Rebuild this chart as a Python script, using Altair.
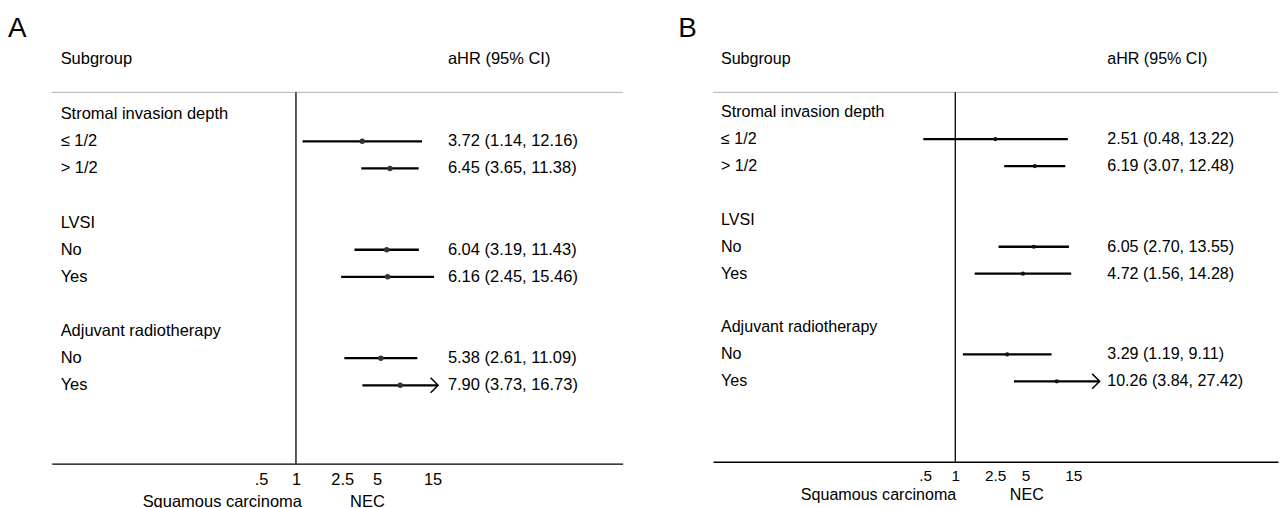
import math
import altair as alt
import pandas as pd

# ---------------- data ----------------
row_labels = ["Stromal invasion depth", "\u2264 1/2", "> 1/2", "",
              "LVSI", "No", "Yes", "",
              "Adjuvant radiotherapy", "No", "Yes"]
est_rows = [1, 2, 5, 6, 9, 10]

A_est = [3.72, 6.45, 6.04, 6.16, 5.38, 7.90]
A_lo = [1.14, 3.65, 3.19, 2.45, 2.61, 3.73]
A_hi = [12.16, 11.38, 11.43, 15.46, 11.09, 16.73]
A_arrow = [False, False, False, False, False, True]

B_est = [2.51, 6.19, 6.05, 4.72, 3.29, 10.26]
B_lo = [0.48, 3.07, 2.70, 1.56, 1.19, 3.84]
B_hi = [13.22, 12.48, 13.55, 14.28, 9.11, 27.42]
B_arrow = [False, False, False, False, False, True]

x_ticks = [0.5, 1, 2.5, 5, 15]

FONT = "Liberation Sans"

# panel layout parameters (pixels, panel coordinates)
PA = dict(letter="A", width=632, height=457, one_px=290, px_per_ln=50.8,
          axis_range=(44, 619), y0=105, dy=27.3, label_x=53, value_x=443,
          letter_x=0, tick_fs=16.5, lab_pad=8, fs=16.6,
          squam_x=296, nec_x=362, bottom_y=496, pt_size=30, pt_color="#333333")
PB = dict(letter="B", width=647, height=455, one_px=322, px_per_ln=43.9,
          axis_range=(78, 647), y0=103, dy=27.1, label_x=86, value_x=475,
          letter_x=43, tick_fs=15.5, lab_pad=7, fs=16.2,
          squam_x=323, nec_x=394, bottom_y=489, pt_size=18, pt_color="#111111")


def panel(est, lo, hi, arrow, P):
    s = P["px_per_ln"]
    one = P["one_px"]
    r0, r1 = P["axis_range"]
    dom = [math.exp((r0 - one) / s), math.exp((r1 - one) / s)]
    xs = alt.Scale(type="log", domain=dom, range=[r0, r1], nice=False)
    ys = alt.Scale(domain=[0, 10], range=[P["y0"], P["y0"] + 10 * P["dy"]],
                   nice=False, zero=False)
    xaxis = alt.Axis(values=x_ticks,
                     labelExpr="datum.value == 0.5 ? '.5' : toString(datum.value)",
                     title=None, grid=False, ticks=False, tickSize=0,
                     domainColor="black", domainWidth=1.3,
                     labelColor="black", labelFont=FONT,
                     labelFontSize=P["tick_fs"], labelPadding=P["lab_pad"],
                     labelFlush=False, labelOverlap=False)

    df = pd.DataFrame({
        "row": est_rows, "est": est, "lo": lo, "hi": hi, "arrow": arrow,
        "ci": [f"{e:.2f} ({l:.2f}, {h:.2f})" for e, l, h in zip(est, lo, hi)],
    })
    lab_df = pd.DataFrame({"row": list(range(len(row_labels))), "label": row_labels})
    one_df = pd.DataFrame({"v": [1]})
    dummy = pd.DataFrame({"d": [0]})

    Y = alt.Y("row:Q", scale=ys, axis=None)
    txt = dict(font=FONT, fontSize=P["fs"], color="black", baseline="middle")

    sep = alt.Chart(dummy).mark_rule(color="#b0b0b0", strokeWidth=1).encode(
        x=alt.value(r0), x2=alt.value(r1), y=alt.value(83))
    ref = alt.Chart(one_df).mark_rule(color="black", strokeWidth=1.3).encode(
        x=alt.X("v:Q", scale=xs, axis=xaxis), y=alt.value(83), y2=alt.value(P["height"]))
    ci = alt.Chart(df).mark_rule(color="black", strokeWidth=2.3).encode(
        x=alt.X("lo:Q", scale=xs, axis=xaxis), x2="hi:Q", y=Y)
    pts = alt.Chart(df).mark_point(filled=True, shape="circle", size=P["pt_size"],
                                   color=P["pt_color"], opacity=1).encode(
        x=alt.X("est:Q", scale=xs, axis=xaxis), y=Y)
    arr = alt.Chart(df).transform_filter("datum.arrow").mark_point(
        shape="M -1 -1 L 0 0 L -1 1", filled=False, color="black",
        strokeWidth=1.5, size=225, opacity=1).encode(
        x=alt.X("hi:Q", scale=xs, axis=xaxis), y=Y)
    labels = alt.Chart(lab_df).mark_text(align="left", **txt).encode(
        x=alt.value(P["label_x"]), y=Y, text="label:N")
    values = alt.Chart(df).mark_text(align="left", **txt).encode(
        x=alt.value(P["value_x"]), y=Y, text="ci:N")
    h1 = alt.Chart(dummy).mark_text(align="left", text="Subgroup", **txt).encode(
        x=alt.value(P["label_x"]), y=alt.value(49))
    h2 = alt.Chart(dummy).mark_text(align="left", text="aHR (95% CI)", **txt).encode(
        x=alt.value(P["value_x"]), y=alt.value(49))
    letter = alt.Chart(dummy).mark_text(align="left", baseline="middle", font=FONT,
                                        fontSize=28, color="black",
                                        text=P["letter"]).encode(
        x=alt.value(P["letter_x"]), y=alt.value(19))
    squam = alt.Chart(dummy).mark_text(align="right", text="Squamous carcinoma", **txt).encode(
        x=alt.value(P["squam_x"]), y=alt.value(P["bottom_y"]))
    nec = alt.Chart(dummy).mark_text(align="center", text="NEC", **txt).encode(
        x=alt.value(P["nec_x"]), y=alt.value(P["bottom_y"]))

    return alt.layer(sep, ref, ci, pts, arr, labels, values, h1, h2, letter,
                     squam, nec).properties(width=P["width"], height=P["height"])


chartA = panel(A_est, A_lo, A_hi, A_arrow, PA)
chartB = panel(B_est, B_lo, B_hi, B_arrow, PB)

chart = alt.hconcat(chartA, chartB, spacing=0, bounds="flush").properties(
    padding={"left": 0, "top": 0, "right": 0, "bottom": 45},
    background="white").configure_view(stroke=None)

chart.save("out.html", embed_options={"renderer": "svg", "actions": False})
